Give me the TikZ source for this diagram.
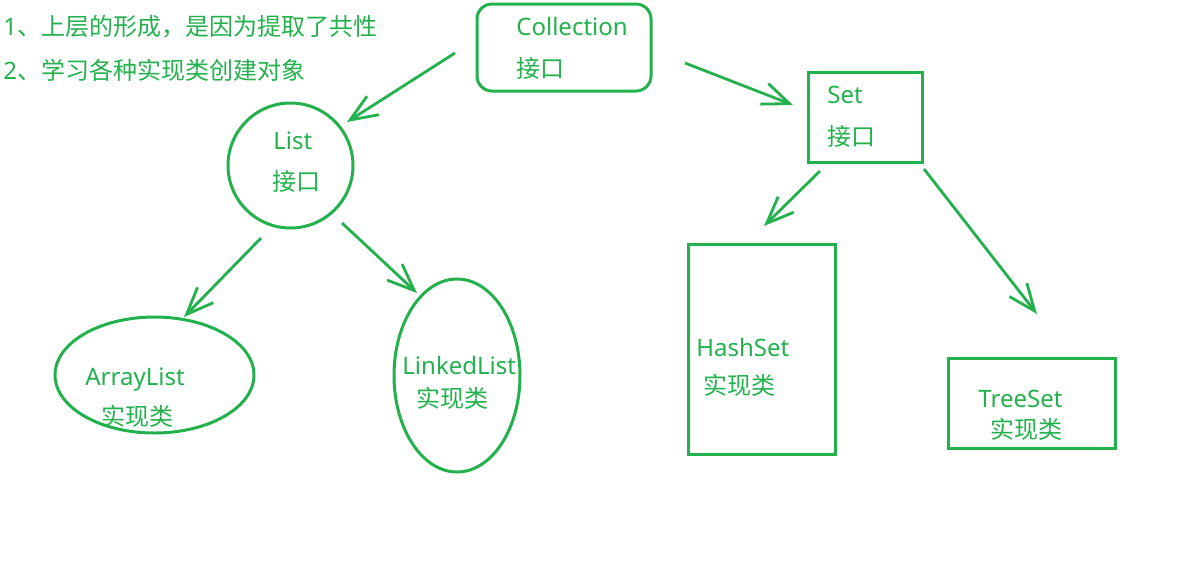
\documentclass[tikz,border=0pt]{standalone}
\usepackage{fontspec}
\setmainfont{Noto Sans}
\newfontfamily\cjk{Noto Sans CJK SC}
\usetikzlibrary{arrows.meta, shapes.geometric, positioning}
\definecolor{paintgreen}{RGB}{34,177,76}
\begin{document}
\begin{tikzpicture}[x=0.5pt, y=-0.5pt]
	\tikzstyle{box_style}=[rectangle, draw=paintgreen, line width=1.5pt, inner sep=0pt]
	\tikzstyle{oval_style}=[ellipse, draw=paintgreen, line width=1.5pt, inner sep=0pt]
	\tikzstyle{text_style}=[text=paintgreen, inner sep=0pt, anchor=base west, font=\fontsize{12pt}{14pt}\selectfont]
	\tikzstyle{arrow_style}=[draw=paintgreen, line width=1.4pt, -{Straight Barb[length=13.5pt, width=11pt]}]
	\useasboundingbox (0,0) rectangle (1184,570);
	% notes
	\node at (3,35) [text_style] (note_1) {1{\cjk 、上层的形成，是因为提取了共性}};
	\node at (3,79) [text_style] (note_2) {2{\cjk 、学习各种实现类创建对象}};
	% interfaces
	\node at (564,47.5) [box_style, rounded corners=7.5pt, minimum width=87pt, minimum height=43.5pt] (collection) {};
	\node at (516,35) [text_style] (collection_name) {Collection};
	\node at (516,77) [text_style] (collection_kind) {\cjk 接口};
	\node at (865,117) [box_style, minimum width=57pt, minimum height=45pt] (set) {};
	\node at (827,103) [text_style] (set_name) {Set};
	\node at (827,145) [text_style] (set_kind) {\cjk 接口};
	\node at (290.5,165.5) [oval_style, minimum width=62.5pt, minimum height=62.5pt] (list) {};
	\node at (273,149) [text_style] (list_name) {List};
	\node at (272,190) [text_style] (list_kind) {\cjk 接口};
	% classes
	\node at (154.5,375) [oval_style, minimum width=99.5pt, minimum height=58pt] (array_list) {};
	\node at (85,385) [text_style] (array_list_name) {ArrayList};
	\node at (101,425) [text_style] (array_list_kind) {\cjk 实现类};
	\node at (457,375.5) [oval_style, minimum width=63pt, minimum height=96.5pt] (linked_list) {};
	\node at (402,374) [text_style] (linked_list_name) {LinkedList};
	\node at (416,407) [text_style] (linked_list_kind) {\cjk 实现类};
	\node at (761.5,349) [box_style, minimum width=73.5pt, minimum height=105pt] (hash_set) {};
	\node at (696,356) [text_style] (hash_set_name) {HashSet};
	\node at (703,394) [text_style] (hash_set_kind) {\cjk 实现类};
	\node at (1031.5,403) [box_style, minimum width=83.5pt, minimum height=45pt] (tree_set) {};
	\node at (978,407) [text_style] (tree_set_name) {TreeSet};
	\node at (990,438) [text_style] (tree_set_kind) {\cjk 实现类};
	% connect: collection -> list, set
	\coordinate (collection_out_l) at (455,53);
	\coordinate (list_in) at (347,122);
	\coordinate (collection_out_r) at (685,63);
	\coordinate (set_in) at (793,105);
	\draw[arrow_style] (collection_out_l) -- (list_in);
	\draw[arrow_style] (collection_out_r) -- (set_in);
	% connect: list -> array_list, linked_list
	\coordinate (list_out_l) at (261,238);
	\coordinate (array_list_in) at (184,317);
	\coordinate (list_out_r) at (342,223);
	\coordinate (linked_list_in) at (417,293);
	\draw[arrow_style] (list_out_l) -- (array_list_in);
	\draw[arrow_style] (list_out_r) -- (linked_list_in);
	% connect: set -> hash_set, tree_set
	\coordinate (set_out_l) at (820,171);
	\coordinate (hash_set_in) at (764,226);
	\coordinate (set_out_r) at (924,169);
	\coordinate (tree_set_in) at (1037,314);
	\draw[arrow_style] (set_out_l) -- (hash_set_in);
	\draw[arrow_style] (set_out_r) -- (tree_set_in);
\end{tikzpicture}
\end{document}
